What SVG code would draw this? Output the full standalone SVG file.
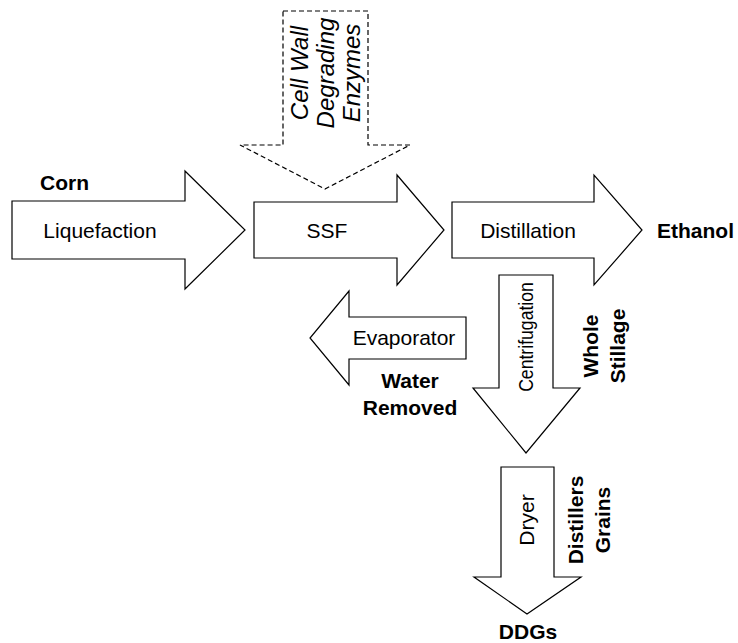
<svg xmlns="http://www.w3.org/2000/svg" width="738" height="643" viewBox="0 0 738 643">
<style>
.arrow{fill:#fff;stroke:#000;stroke-width:1.2;stroke-linejoin:miter}
.dash{fill:#fff;stroke:#000;stroke-width:1.2;stroke-dasharray:5,3}
.t{font-family:"Liberation Sans",Arial,sans-serif;font-size:21px;fill:#000}
.b{font-weight:bold}
.i{font-style:italic;font-size:24px}
.m{text-anchor:middle}
</style>
<rect width="738" height="643" fill="#fff"/>
<g id="enzymes">
<path class="dash" d="M283,11 H368 V145 H410 L325,189 L240,145 H283 Z"/>
<g class="t i m">
<text transform="translate(308,73) rotate(-90)">Cell Wall</text>
<text transform="translate(334,73) rotate(-90)">Degrading</text>
<text transform="translate(360,73) rotate(-90)">Enzymes</text>
</g>
</g>
<g id="liquefaction">
<path class="arrow" d="M12,201 H185 V171 L245,230 L185,289 V259 H12 Z"/>
<text class="t m" x="100" y="238">Liquefaction</text>
</g>
<g id="corn"><text class="t b" x="40" y="190">Corn</text></g>
<g id="ssf">
<path class="arrow" d="M254,202 H397 V175 L444,230 L397,285 V258 H254 Z"/>
<text class="t m" x="327" y="238">SSF</text>
</g>
<g id="distillation">
<path class="arrow" d="M452,202 H594 V175 L642,230 L594,285 V258 H452 Z"/>
<text class="t m" x="528" y="238">Distillation</text>
</g>
<g id="ethanol"><text class="t b" x="657" y="238">Ethanol</text></g>
<g id="evaporator">
<path class="arrow" d="M466,317 H349 V291 L310,338 L349,385 V359 H466 Z"/>
<text class="t m" x="404" y="345">Evaporator</text>
</g>
<g id="water">
<text class="t b m" x="410" y="388">Water</text>
<text class="t b m" x="410" y="415">Removed</text>
</g>
<g id="centrifugation">
<path class="arrow" d="M499,275 H553 V388 H580 L526,453 L473,388 H499 Z"/>
<text class="t m" transform="translate(533,337) scale(1,0.84) rotate(-90)">Centrifugation</text>
</g>
<g id="stillage">
<text class="t b m" transform="translate(598,346) rotate(-90)">Whole</text>
<text class="t b m" transform="translate(625,346) rotate(-90)">Stillage</text>
</g>
<g id="dryer">
<path class="arrow" d="M501,467 H554 V577 H581 L527,614 L474,577 H501 Z"/>
<text class="t m" transform="translate(534,520) rotate(-90)">Dryer</text>
</g>
<g id="grains">
<text class="t b m" transform="translate(583,520) rotate(-90)">Distillers</text>
<text class="t b m" transform="translate(610,520) rotate(-90)">Grains</text>
</g>
<g id="ddgs"><text class="t b m" x="528" y="639">DDGs</text></g>
<g id="connectors"></g>
</svg>
